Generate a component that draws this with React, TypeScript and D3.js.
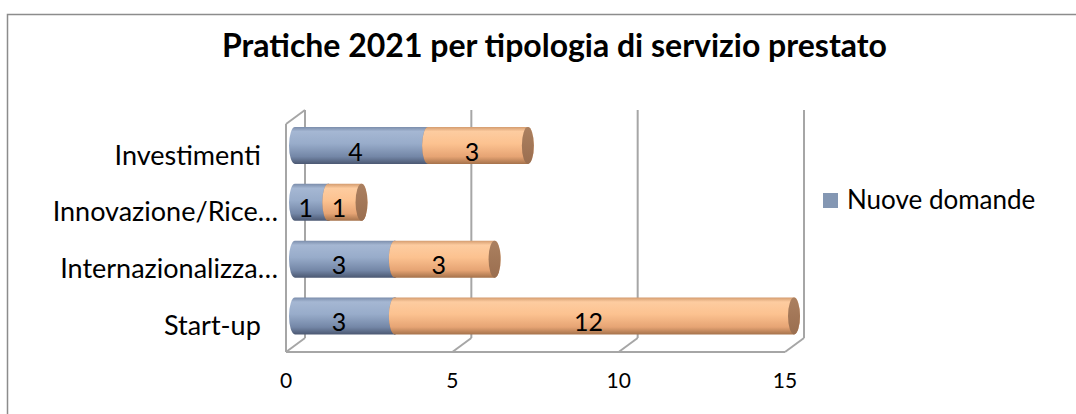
import React from "react";
import * as d3 from "d3";

const title = "Pratiche 2021 per tipologia di servizio prestato";
const categories = ["Investimenti", "Innovazione/Rice…", "Internazionalizza…", "Start-up"];
const categoryLabels = ["Investimenti\u00a0\u00a0\u2009", "Innovazione/Rice…", "Internazionalizza…", "Start-up\u00a0\u00a0\u2009"];
const nuoveDomande = [4, 1, 3, 3];
const secondSeries = [3, 1, 3, 12];
const ticks = [0, 5, 10, 15];
const legendLabel = "Nuove domande";

const W = 1076;
const H = 414;
const FONT = "Lato, 'Noto Sans', sans-serif";

export default function App() {
  // 3D box geometry
  const depthX = 19;
  const depthY = 14;
  const floorFront = 352;
  const floorBack = floorFront - depthY;
  const wallTop = 110;
  const xf = d3.scaleLinear().domain([0, 15]).range([286, 785]);
  const xb = (v: number) => xf(v) + depthX;
  const xc = (v: number) => xf(v) + 9;
  const y = d3.scalePoint<string>().domain(categories).range([145.5, 316]);
  const barH = 37;
  const rx = 6;

  const seg = (a: number, b: number, cy: number) => {
    const t = cy - barH / 2;
    const bt = cy + barH / 2;
    const ry = barH / 2;
    return `M${xc(a)},${t} L${xc(b)},${t} A${rx},${ry} 0 0 1 ${xc(b)},${bt} L${xc(a)},${bt} A${rx},${ry} 0 0 1 ${xc(a)},${t} Z`;
  };

  const series = [
    { name: "blue", values: nuoveDomande, fill: "url(#gBlue)", cap: "url(#gBlueCap)" },
    { name: "orange", values: secondSeries, fill: "url(#gOrange)", cap: "url(#gOrangeCap)" },
  ];

  const gridColor = "#a6a6a6";

  return (
    <svg width={W} height={H} style={{ position: "absolute", left: 0, top: 0, background: "#fff" }}>
      <defs>
        <linearGradient id="gBlue" x1="0" y1="0" x2="0" y2="1">
          <stop offset="0" stopColor="#7b8dab" />
          <stop offset="0.12" stopColor="#a5b7d3" />
          <stop offset="0.45" stopColor="#98acca" />
          <stop offset="0.8" stopColor="#7487a7" />
          <stop offset="1" stopColor="#4b5872" />
        </linearGradient>
        <linearGradient id="gOrange" x1="0" y1="0" x2="0" y2="1">
          <stop offset="0" stopColor="#d49c6f" />
          <stop offset="0.12" stopColor="#fdcca0" />
          <stop offset="0.45" stopColor="#fcc290" />
          <stop offset="0.8" stopColor="#e6a474" />
          <stop offset="1" stopColor="#a5724b" />
        </linearGradient>
        <linearGradient id="gBlueCap" x1="0" y1="0" x2="0" y2="1">
          <stop offset="0" stopColor="#6d7e9b" />
          <stop offset="1" stopColor="#55647e" />
        </linearGradient>
        <linearGradient id="gOrangeCap" x1="0" y1="0" x2="0" y2="1">
          <stop offset="0" stopColor="#ab8060" />
          <stop offset="1" stopColor="#9a6e4f" />
        </linearGradient>
      </defs>

      <rect x={7.5} y={14.5} width={W + 20} height={H + 20} fill="#fff" stroke="#8c8c8c" strokeWidth={1.5} />

      <text x={554.5} y={57} textAnchor="middle" fontFamily={FONT} fontWeight="bold" fontSize={32} fill="#000">
        {title}
      </text>

      {/* walls and grid */}
      <g stroke={gridColor} strokeWidth={2} fill="none">
        <line x1={xf(0)} y1={wallTop + depthY} x2={xf(0)} y2={floorFront} />
        <line x1={xf(0)} y1={wallTop + depthY} x2={xb(0)} y2={wallTop} />
        {ticks.map((t) => (
          <line key={"g" + t} x1={xb(t)} y1={wallTop} x2={xb(t)} y2={floorBack} />
        ))}
        {ticks.map((t) => (
          <line key={"d" + t} x1={xb(t)} y1={floorBack} x2={xf(t)} y2={floorFront} />
        ))}
        <line x1={xf(0)} y1={floorFront} x2={xf(15)} y2={floorFront} />
      </g>

      {/* bars */}
      {categories.map((c, i) => {
        const cy = y(c) as number;
        let acc = 0;
        return (
          <g key={c}>
            {series.map((s) => {
              const a = acc;
              const b = acc + s.values[i];
              acc = b;
              return (
                <g key={s.name}>
                  <path d={seg(a, b, cy)} fill={s.fill} />
                  <ellipse cx={xc(b)} cy={cy} rx={rx} ry={barH / 2} fill={s.cap} />
                </g>
              );
            })}
          </g>
        );
      })}

      {/* value labels */}
      {categories.map((c, i) => {
        const cy = y(c) as number;
        let acc = 0;
        return series.map((s) => {
          const a = acc;
          const b = acc + s.values[i];
          acc = b;
          return (
            <text
              key={c + s.name}
              x={(xc(a) + xc(b)) / 2 - rx}
              y={cy + 15}
              textAnchor="middle"
              fontFamily={FONT}
              fontSize={25}
              fill="#000"
            >
              {s.values[i]}
            </text>
          );
        });
      })}

      {/* category labels */}
      {categories.map((c, i) => (
        <text
          key={"l" + c}
          x={278}
          y={(y(c) as number) + 19}
          textAnchor="end"
          fontFamily={FONT}
          fontSize={27}
          fill="#000"
          style={{ whiteSpace: "pre" }}
        >
          {categoryLabels[i]}
        </text>
      ))}

      {/* x tick labels */}
      {ticks.map((t) => (
        <text key={"t" + t} x={xf(t)} y={387.5} textAnchor="middle" fontFamily={FONT} fontSize={21} fill="#000">
          {t}
        </text>
      ))}

      {/* legend */}
      <rect x={823} y={193} width={15} height={15} fill="#8497b3" />
      <text x={847} y={209} fontFamily={FONT} fontSize={26} fill="#000">
        {legendLabel}
      </text>
    </svg>
  );
}
